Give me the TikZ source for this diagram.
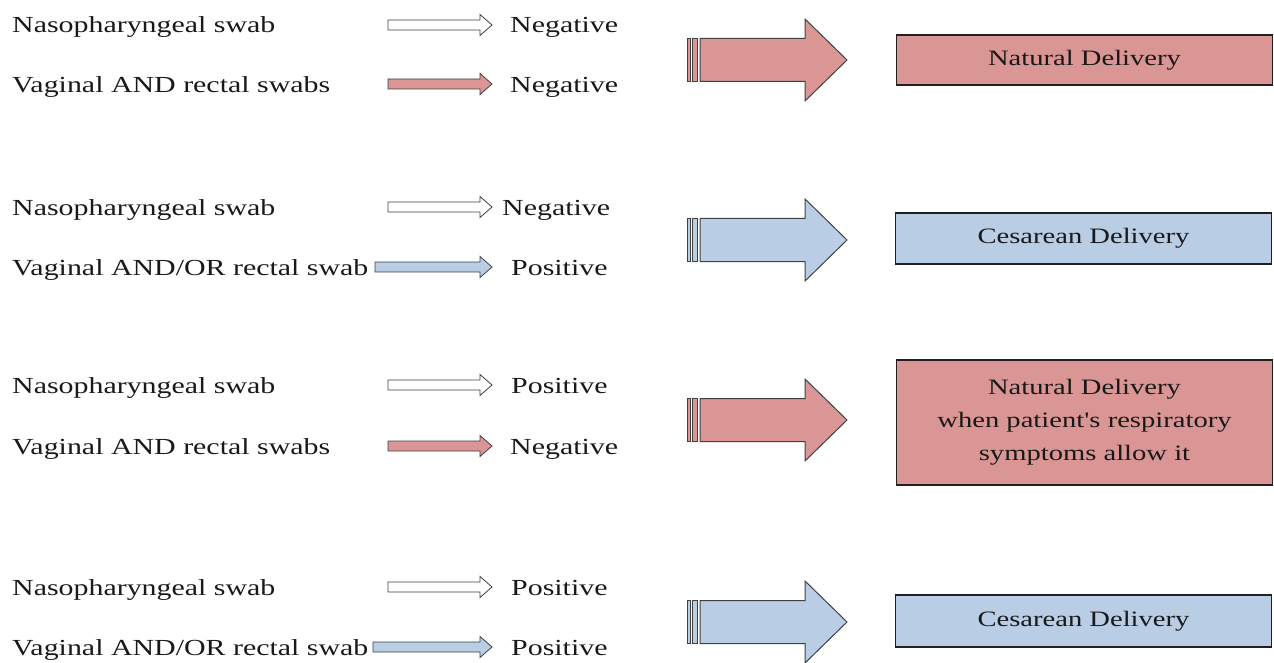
\documentclass[tikz,border=0pt]{standalone}
\usepackage{fontspec}
\newfontfamily\mainf{Liberation Serif}[FakeStretch=1.3, Ligatures=TeXOff]
\definecolor{redfill}{HTML}{D99694}
\definecolor{bluefill}{HTML}{B9CDE5}
\definecolor{edge}{HTML}{404040}
\definecolor{boxedge}{HTML}{231F20}
\tikzset{
  lbl/.style={anchor=base west, inner sep=0pt, font=\mainf\fontsize{23}{28}\selectfont, text=black!90},
  outbox/.style={draw=boxedge, line width=1.6pt, minimum width=376pt, align=center, inner sep=0pt,
     font=\mainf\fontsize{22}{33}\selectfont, text=black!90},
  pics/smallarr/.style 2 args={code={
    \draw[line width=0.8pt, draw=edge, fill=#1] (0,0) -- (-12,-10.5) -- (-12,-5) -- (-#2,-5)
      -- (-#2,5) -- (-12,5) -- (-12,10.5) -- cycle;}},
  pics/bigarr/.style={code={
    \draw[line width=1pt, draw=edge, fill=#1] (0,0) -- (-42,-41) -- (-42,-21.5) -- (-147,-21.5)
      -- (-147,21.5) -- (-42,21.5) -- (-42,41) -- cycle;
    \draw[line width=1pt, draw=edge, fill=#1] (-154.5,-21.5) rectangle (-149.5,21.5);
    \draw[line width=1pt, draw=edge, fill=#1] (-160,-21.5) rectangle (-157,21.5);}}
}
\begin{document}
\begin{tikzpicture}[x=1pt,y=-1pt]
\useasboundingbox (0,0) rectangle (1274,663);
% group 1
\node[lbl] (n1) at (12,33) {Nasopharyngeal swab};
\node[lbl] (v1) at (12,93) {Vaginal AND rectal swabs};
\pic (sa1) at (492,25) {smallarr={white}{104}};
\pic (sb1) at (492,84) {smallarr={redfill}{104}};
\node[lbl] (r1a) at (510,33) {Negative};
\node[lbl] (r1b) at (510,93) {Negative};
\pic (ba1) at (847,60) {bigarr=redfill};
\node[outbox, fill=redfill, minimum height=50pt] (o1) at (1084.5,60) {Natural Delivery};
% group 2
\node[lbl] (n2) at (12,215) {Nasopharyngeal swab};
\node[lbl] (v2) at (12,275) {Vaginal AND/OR rectal swab};
\pic (sa2) at (492,207) {smallarr={white}{104}};
\pic (sb2) at (492,267) {smallarr={bluefill}{117}};
\node[lbl] (r2a) at (502,215) {Negative};
\node[lbl] (r2b) at (511,275) {Positive};
\pic (ba2) at (847,240) {bigarr=bluefill};
\node[outbox, fill=bluefill, minimum height=51pt] (o2) at (1083.5,238.5) {Cesarean Delivery};
% group 3
\node[lbl] (n3) at (12,393) {Nasopharyngeal swab};
\node[lbl] (v3) at (12,454) {Vaginal AND rectal swabs};
\pic (sa3) at (492,385) {smallarr={white}{104}};
\pic (sb3) at (492,446) {smallarr={redfill}{104}};
\node[lbl] (r3a) at (511,393) {Positive};
\node[lbl] (r3b) at (510,454) {Negative};
\pic (ba3) at (847,420) {bigarr=redfill};
\node[outbox, fill=redfill, minimum height=125pt] (o3) at (1084.5,422.5) {Natural Delivery\\when patient's respiratory\\symptoms allow it};
% group 4
\node[lbl] (n4) at (12,595) {Nasopharyngeal swab};
\node[lbl] (v4) at (12,655) {Vaginal AND/OR rectal swab};
\pic (sa4) at (492,587) {smallarr={white}{104}};
\pic (sb4) at (492,647) {smallarr={bluefill}{119}};
\node[lbl] (r4a) at (511,595) {Positive};
\node[lbl] (r4b) at (511,655) {Positive};
\pic (ba4) at (847,622) {bigarr=bluefill};
\node[outbox, fill=bluefill, minimum height=52pt] (o4) at (1083.5,621) {Cesarean Delivery};
\end{tikzpicture}
\end{document}
